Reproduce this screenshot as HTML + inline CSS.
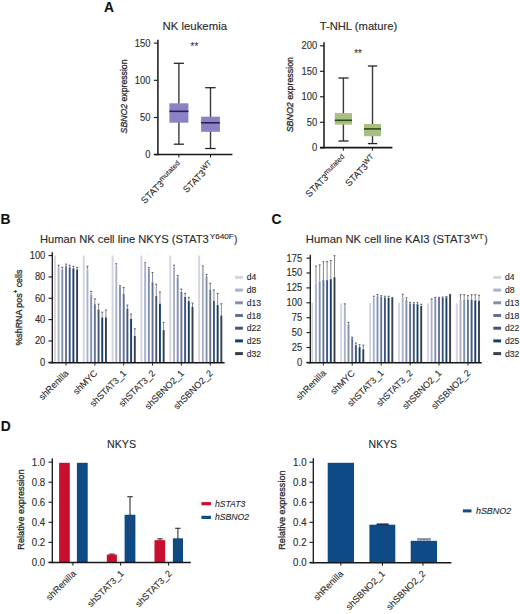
<!DOCTYPE html>
<html><head><meta charset="utf-8"><style>
html,body{margin:0;padding:0;background:#fff;}
svg{display:block;font-family:"Liberation Sans",sans-serif;}
text{stroke:#2b2b2b;stroke-width:0.12px;paint-order:stroke;}
text.yl{stroke-width:0.3px;}
</style></head><body>
<svg width="520" height="614" viewBox="0 0 520 614">
<rect width="520" height="614" fill="#fff"/>
<text x="104.0" y="11.8" font-size="13.8" text-anchor="start" fill="#111" font-weight="bold">A</text>
<text x="0.6" y="223.9" font-size="13.8" text-anchor="start" fill="#111" font-weight="bold">B</text>
<text x="271.6" y="223.9" font-size="13.8" text-anchor="start" fill="#111" font-weight="bold">C</text>
<text x="0.8" y="430.9" font-size="13.8" text-anchor="start" fill="#111" font-weight="bold">D</text>
<text x="162.5" y="30.2" font-size="10.4" text-anchor="start" fill="#2b2b2b" textLength="64.5" lengthAdjust="spacingAndGlyphs">NK leukemia</text>
<line x1="157.9" y1="39.8" x2="157.9" y2="155.2" stroke="#161616" stroke-width="1.5"/>
<line x1="153.9" y1="43.1" x2="157.9" y2="43.1" stroke="#161616" stroke-width="1.1"/>
<text x="150.4" y="46.5" font-size="10.2" text-anchor="end" fill="#2b2b2b" textLength="15.6" lengthAdjust="spacingAndGlyphs">150</text>
<line x1="153.9" y1="80.3" x2="157.9" y2="80.3" stroke="#161616" stroke-width="1.1"/>
<text x="150.4" y="83.7" font-size="10.2" text-anchor="end" fill="#2b2b2b" textLength="15.6" lengthAdjust="spacingAndGlyphs">100</text>
<line x1="153.9" y1="117.5" x2="157.9" y2="117.5" stroke="#161616" stroke-width="1.1"/>
<text x="150.4" y="120.9" font-size="10.2" text-anchor="end" fill="#2b2b2b" textLength="10.4" lengthAdjust="spacingAndGlyphs">50</text>
<line x1="153.9" y1="154.6" x2="157.9" y2="154.6" stroke="#161616" stroke-width="1.1"/>
<text x="150.4" y="158.0" font-size="10.2" text-anchor="end" fill="#2b2b2b" textLength="5.2" lengthAdjust="spacingAndGlyphs">0</text>
<line x1="153.9" y1="154.5" x2="232.4" y2="154.5" stroke="#161616" stroke-width="1.6"/>
<line x1="178.8" y1="154.5" x2="178.8" y2="157.5" stroke="#161616" stroke-width="1.0"/>
<line x1="210.5" y1="154.5" x2="210.5" y2="157.5" stroke="#161616" stroke-width="1.0"/>
<line x1="178.9" y1="63.3" x2="178.9" y2="144.2" stroke="#3a3a3a" stroke-width="1.4"/>
<line x1="173.8" y1="63.3" x2="183.9" y2="63.3" stroke="#262626" stroke-width="1.3"/>
<line x1="173.8" y1="144.2" x2="183.9" y2="144.2" stroke="#262626" stroke-width="1.3"/>
<rect x="169.40" y="103.30" width="19.00" height="19.40" fill="#8b82c6"/>
<line x1="169.4" y1="111.3" x2="188.4" y2="111.3" stroke="#2a2152" stroke-width="1.6"/>
<line x1="210.5" y1="87.7" x2="210.5" y2="148.5" stroke="#3a3a3a" stroke-width="1.4"/>
<line x1="205.2" y1="87.7" x2="215.6" y2="87.7" stroke="#262626" stroke-width="1.3"/>
<line x1="205.2" y1="148.5" x2="215.6" y2="148.5" stroke="#262626" stroke-width="1.3"/>
<rect x="201.10" y="116.70" width="18.80" height="15.10" fill="#8b82c6"/>
<line x1="201.1" y1="122.8" x2="219.9" y2="122.8" stroke="#2a2152" stroke-width="1.6"/>
<text x="190.6" y="49.7" font-size="11" text-anchor="start" fill="#333" textLength="7.6" lengthAdjust="spacingAndGlyphs">**</text>
<text x="0" y="0" font-size="9.8" text-anchor="middle" fill="#2b2b2b" textLength="73.9" lengthAdjust="spacingAndGlyphs" transform="translate(127.3,96.45) rotate(-90)" class="yl"><tspan font-style="italic">SBNO2</tspan> expression</text>
<text x="319.7" y="30.3" font-size="10.4" text-anchor="start" fill="#2b2b2b" textLength="77.5" lengthAdjust="spacingAndGlyphs">T-NHL (mature)</text>
<line x1="324.0" y1="42.3" x2="324.0" y2="148.29999999999998" stroke="#161616" stroke-width="1.5"/>
<line x1="320.0" y1="45.8" x2="324.0" y2="45.8" stroke="#161616" stroke-width="1.1"/>
<text x="317.20000000000005" y="49.199999999999996" font-size="10.2" text-anchor="end" fill="#2b2b2b" textLength="15.6" lengthAdjust="spacingAndGlyphs">200</text>
<line x1="320.0" y1="71.3" x2="324.0" y2="71.3" stroke="#161616" stroke-width="1.1"/>
<text x="317.20000000000005" y="74.7" font-size="10.2" text-anchor="end" fill="#2b2b2b" textLength="15.6" lengthAdjust="spacingAndGlyphs">150</text>
<line x1="320.0" y1="96.8" x2="324.0" y2="96.8" stroke="#161616" stroke-width="1.1"/>
<text x="317.20000000000005" y="100.2" font-size="10.2" text-anchor="end" fill="#2b2b2b" textLength="15.6" lengthAdjust="spacingAndGlyphs">100</text>
<line x1="320.0" y1="122.3" x2="324.0" y2="122.3" stroke="#161616" stroke-width="1.1"/>
<text x="317.20000000000005" y="125.7" font-size="10.2" text-anchor="end" fill="#2b2b2b" textLength="10.4" lengthAdjust="spacingAndGlyphs">50</text>
<line x1="320.0" y1="147.8" x2="324.0" y2="147.8" stroke="#161616" stroke-width="1.1"/>
<text x="317.20000000000005" y="151.20000000000002" font-size="10.2" text-anchor="end" fill="#2b2b2b" textLength="5.2" lengthAdjust="spacingAndGlyphs">0</text>
<line x1="320.0" y1="147.6" x2="392.4" y2="147.6" stroke="#161616" stroke-width="1.6"/>
<line x1="343.4" y1="147.6" x2="343.4" y2="150.6" stroke="#161616" stroke-width="1.0"/>
<line x1="372.4" y1="147.6" x2="372.4" y2="150.6" stroke="#161616" stroke-width="1.0"/>
<line x1="343.4" y1="78.0" x2="343.4" y2="141.0" stroke="#3a3a3a" stroke-width="1.4"/>
<line x1="338.4" y1="78.0" x2="348.6" y2="78.0" stroke="#262626" stroke-width="1.3"/>
<line x1="338.4" y1="141.0" x2="348.6" y2="141.0" stroke="#262626" stroke-width="1.3"/>
<rect x="334.80" y="113.10" width="17.20" height="11.50" fill="#a9bf82"/>
<line x1="334.8" y1="120.3" x2="352.0" y2="120.3" stroke="#2f4a1e" stroke-width="1.6"/>
<line x1="372.5" y1="66.0" x2="372.5" y2="143.6" stroke="#3a3a3a" stroke-width="1.4"/>
<line x1="367.9" y1="66.0" x2="377.2" y2="66.0" stroke="#262626" stroke-width="1.3"/>
<line x1="367.9" y1="143.6" x2="377.2" y2="143.6" stroke="#262626" stroke-width="1.3"/>
<rect x="364.00" y="124.00" width="17.00" height="12.20" fill="#a9bf82"/>
<line x1="364.0" y1="128.9" x2="381.0" y2="128.9" stroke="#2f4a1e" stroke-width="1.6"/>
<text x="354.3" y="57.0" font-size="11" text-anchor="start" fill="#333" textLength="7.6" lengthAdjust="spacingAndGlyphs">**</text>
<text x="0" y="0" font-size="9.8" text-anchor="middle" fill="#2b2b2b" textLength="75.3" lengthAdjust="spacingAndGlyphs" transform="translate(293.3,94.65) rotate(-90)" class="yl"><tspan font-style="italic">SBNO2</tspan> expression</text>
<text x="0" y="0" font-size="9.3" text-anchor="end" fill="#2b2b2b" transform="translate(183.0,166.0) rotate(-45)">STAT3<tspan font-size="7.3" dy="-3.6">mutated</tspan></text>
<text x="0" y="0" font-size="9.3" text-anchor="end" fill="#2b2b2b" transform="translate(214.3,165.8) rotate(-45)">STAT3<tspan font-size="7.3" dy="-3.6">WT</tspan></text>
<text x="0" y="0" font-size="9.3" text-anchor="end" fill="#2b2b2b" transform="translate(347.5,159.5) rotate(-45)">STAT3<tspan font-size="7.3" dy="-3.6">mutated</tspan></text>
<text x="0" y="0" font-size="9.3" text-anchor="end" fill="#2b2b2b" transform="translate(376.4,159.4) rotate(-45)">STAT3<tspan font-size="7.3" dy="-3.6">WT</tspan></text>
<rect x="53.95" y="255.60" width="1.90" height="107.20" fill="#d4d5df"/>
<line x1="58.6" y1="265.203" x2="58.6" y2="267.337" stroke="#555" stroke-width="0.7"/>
<line x1="57.6" y1="265.203" x2="59.6" y2="265.203" stroke="#444" stroke-width="0.8"/>
<rect x="57.65" y="267.34" width="1.90" height="95.46" fill="#aab2cb"/>
<line x1="62.3" y1="267.337" x2="62.3" y2="269.471" stroke="#555" stroke-width="0.7"/>
<line x1="61.3" y1="267.337" x2="63.3" y2="267.337" stroke="#444" stroke-width="0.8"/>
<rect x="61.35" y="269.47" width="1.90" height="93.33" fill="#8290b0"/>
<line x1="66.0" y1="264.13599999999997" x2="66.0" y2="266.27" stroke="#555" stroke-width="0.7"/>
<line x1="65.0" y1="264.13599999999997" x2="67.0" y2="264.13599999999997" stroke="#444" stroke-width="0.8"/>
<rect x="65.05" y="266.27" width="1.90" height="96.53" fill="#63709a"/>
<line x1="69.7" y1="265.203" x2="69.7" y2="267.337" stroke="#555" stroke-width="0.7"/>
<line x1="68.7" y1="265.203" x2="70.7" y2="265.203" stroke="#444" stroke-width="0.8"/>
<rect x="68.75" y="267.34" width="1.90" height="95.46" fill="#43557e"/>
<line x1="73.4" y1="266.27" x2="73.4" y2="268.404" stroke="#555" stroke-width="0.7"/>
<line x1="72.4" y1="266.27" x2="74.4" y2="266.27" stroke="#444" stroke-width="0.8"/>
<rect x="72.45" y="268.40" width="1.90" height="94.40" fill="#15406e"/>
<line x1="77.1" y1="267.337" x2="77.1" y2="269.471" stroke="#555" stroke-width="0.7"/>
<line x1="76.1" y1="267.337" x2="78.1" y2="267.337" stroke="#444" stroke-width="0.8"/>
<rect x="76.15" y="269.47" width="1.90" height="93.33" fill="#393f4a"/>
<rect x="82.80" y="255.60" width="1.90" height="107.20" fill="#d4d5df"/>
<line x1="87.44999999999999" y1="266.27" x2="87.44999999999999" y2="269.471" stroke="#555" stroke-width="0.7"/>
<line x1="86.44999999999999" y1="266.27" x2="88.44999999999999" y2="266.27" stroke="#444" stroke-width="0.8"/>
<rect x="86.50" y="269.47" width="1.90" height="93.33" fill="#aab2cb"/>
<line x1="91.14999999999999" y1="291.3445" x2="91.14999999999999" y2="294.5455" stroke="#555" stroke-width="0.7"/>
<line x1="90.14999999999999" y1="291.3445" x2="92.14999999999999" y2="291.3445" stroke="#444" stroke-width="0.8"/>
<rect x="90.20" y="294.55" width="1.90" height="68.25" fill="#8290b0"/>
<line x1="94.85" y1="298.8135" x2="94.85" y2="304.1485" stroke="#555" stroke-width="0.7"/>
<line x1="93.85" y1="298.8135" x2="95.85" y2="298.8135" stroke="#444" stroke-width="0.8"/>
<rect x="93.90" y="304.15" width="1.90" height="58.65" fill="#63709a"/>
<line x1="98.55" y1="304.1485" x2="98.55" y2="309.4835" stroke="#555" stroke-width="0.7"/>
<line x1="97.55" y1="304.1485" x2="99.55" y2="304.1485" stroke="#444" stroke-width="0.8"/>
<rect x="97.60" y="309.48" width="1.90" height="53.32" fill="#43557e"/>
<line x1="102.25" y1="312.151" x2="102.25" y2="317.486" stroke="#555" stroke-width="0.7"/>
<line x1="101.25" y1="312.151" x2="103.25" y2="312.151" stroke="#444" stroke-width="0.8"/>
<rect x="101.30" y="317.49" width="1.90" height="45.31" fill="#15406e"/>
<line x1="105.94999999999999" y1="310.017" x2="105.94999999999999" y2="317.486" stroke="#555" stroke-width="0.7"/>
<line x1="104.94999999999999" y1="310.017" x2="106.94999999999999" y2="310.017" stroke="#444" stroke-width="0.8"/>
<rect x="105.00" y="317.49" width="1.90" height="45.31" fill="#393f4a"/>
<rect x="111.65" y="255.60" width="1.90" height="107.20" fill="#d4d5df"/>
<line x1="116.3" y1="263.7092" x2="116.3" y2="265.7365" stroke="#555" stroke-width="0.7"/>
<line x1="115.3" y1="263.7092" x2="117.3" y2="263.7092" stroke="#444" stroke-width="0.8"/>
<rect x="115.35" y="265.74" width="1.90" height="97.06" fill="#aab2cb"/>
<line x1="120.0" y1="285.6894" x2="120.0" y2="286.9698" stroke="#555" stroke-width="0.7"/>
<line x1="119.0" y1="285.6894" x2="121.0" y2="285.6894" stroke="#444" stroke-width="0.8"/>
<rect x="119.05" y="286.97" width="1.90" height="75.83" fill="#8290b0"/>
<line x1="123.7" y1="287.61" x2="123.7" y2="294.012" stroke="#555" stroke-width="0.7"/>
<line x1="122.7" y1="287.61" x2="124.7" y2="287.61" stroke="#444" stroke-width="0.8"/>
<rect x="122.75" y="294.01" width="1.90" height="68.79" fill="#63709a"/>
<line x1="127.4" y1="305.1088" x2="127.4" y2="308.6299" stroke="#555" stroke-width="0.7"/>
<line x1="126.4" y1="305.1088" x2="128.4" y2="305.1088" stroke="#444" stroke-width="0.8"/>
<rect x="126.45" y="308.63" width="1.90" height="54.17" fill="#43557e"/>
<line x1="131.1" y1="314.0716" x2="131.1" y2="318.7664" stroke="#555" stroke-width="0.7"/>
<line x1="130.1" y1="314.0716" x2="132.1" y2="314.0716" stroke="#444" stroke-width="0.8"/>
<rect x="130.15" y="318.77" width="1.90" height="44.03" fill="#15406e"/>
<line x1="134.8" y1="328.7962" x2="134.8" y2="336.0518" stroke="#555" stroke-width="0.7"/>
<line x1="133.8" y1="328.7962" x2="135.8" y2="328.7962" stroke="#444" stroke-width="0.8"/>
<rect x="133.85" y="336.05" width="1.90" height="26.75" fill="#393f4a"/>
<rect x="140.50" y="255.60" width="1.90" height="107.20" fill="#d4d5df"/>
<line x1="145.15" y1="262.7489" x2="145.15" y2="263.7092" stroke="#555" stroke-width="0.7"/>
<line x1="144.15" y1="262.7489" x2="146.15" y2="262.7489" stroke="#444" stroke-width="0.8"/>
<rect x="144.20" y="263.71" width="1.90" height="99.09" fill="#aab2cb"/>
<line x1="148.85000000000002" y1="267.6571" x2="148.85000000000002" y2="268.6174" stroke="#555" stroke-width="0.7"/>
<line x1="147.85000000000002" y1="267.6571" x2="149.85000000000002" y2="267.6571" stroke="#444" stroke-width="0.8"/>
<rect x="147.90" y="268.62" width="1.90" height="94.18" fill="#8290b0"/>
<line x1="152.55" y1="272.4586" x2="152.55" y2="282.275" stroke="#555" stroke-width="0.7"/>
<line x1="151.55" y1="272.4586" x2="153.55" y2="272.4586" stroke="#444" stroke-width="0.8"/>
<rect x="151.60" y="282.27" width="1.90" height="80.53" fill="#63709a"/>
<line x1="156.25" y1="284.1956" x2="156.25" y2="295.9326" stroke="#555" stroke-width="0.7"/>
<line x1="155.25" y1="284.1956" x2="157.25" y2="284.1956" stroke="#444" stroke-width="0.8"/>
<rect x="155.30" y="295.93" width="1.90" height="66.87" fill="#43557e"/>
<line x1="159.95000000000002" y1="291.9847" x2="159.95000000000002" y2="303.7217" stroke="#555" stroke-width="0.7"/>
<line x1="158.95000000000002" y1="291.9847" x2="160.95000000000002" y2="291.9847" stroke="#444" stroke-width="0.8"/>
<rect x="159.00" y="303.72" width="1.90" height="59.08" fill="#15406e"/>
<line x1="163.65" y1="322.2875" x2="163.65" y2="330.0766" stroke="#555" stroke-width="0.7"/>
<line x1="162.65" y1="322.2875" x2="164.65" y2="322.2875" stroke="#444" stroke-width="0.8"/>
<rect x="162.70" y="330.08" width="1.90" height="32.72" fill="#393f4a"/>
<rect x="169.35" y="255.60" width="1.90" height="107.20" fill="#d4d5df"/>
<line x1="174.0" y1="265.203" x2="174.0" y2="266.5901" stroke="#555" stroke-width="0.7"/>
<line x1="173.0" y1="265.203" x2="175.0" y2="265.203" stroke="#444" stroke-width="0.8"/>
<rect x="173.05" y="266.59" width="1.90" height="96.21" fill="#aab2cb"/>
<line x1="177.70000000000002" y1="275.4462" x2="177.70000000000002" y2="277.3668" stroke="#555" stroke-width="0.7"/>
<line x1="176.70000000000002" y1="275.4462" x2="178.70000000000002" y2="275.4462" stroke="#444" stroke-width="0.8"/>
<rect x="176.75" y="277.37" width="1.90" height="85.43" fill="#8290b0"/>
<line x1="181.4" y1="289.1038" x2="181.4" y2="291.9847" stroke="#555" stroke-width="0.7"/>
<line x1="180.4" y1="289.1038" x2="182.4" y2="289.1038" stroke="#444" stroke-width="0.8"/>
<rect x="180.45" y="291.98" width="1.90" height="70.82" fill="#63709a"/>
<line x1="185.1" y1="293.3718" x2="185.1" y2="296.8929" stroke="#555" stroke-width="0.7"/>
<line x1="184.1" y1="293.3718" x2="186.1" y2="293.3718" stroke="#444" stroke-width="0.8"/>
<rect x="184.15" y="296.89" width="1.90" height="65.91" fill="#43557e"/>
<line x1="188.8" y1="297.3197" x2="188.8" y2="301.1609" stroke="#555" stroke-width="0.7"/>
<line x1="187.8" y1="297.3197" x2="189.8" y2="297.3197" stroke="#444" stroke-width="0.8"/>
<rect x="187.85" y="301.16" width="1.90" height="61.64" fill="#15406e"/>
<line x1="192.5" y1="303.1882" x2="192.5" y2="306.7093" stroke="#555" stroke-width="0.7"/>
<line x1="191.5" y1="303.1882" x2="193.5" y2="303.1882" stroke="#444" stroke-width="0.8"/>
<rect x="191.55" y="306.71" width="1.90" height="56.09" fill="#393f4a"/>
<rect x="198.20" y="255.60" width="1.90" height="107.20" fill="#d4d5df"/>
<line x1="202.85" y1="265.9499" x2="202.85" y2="267.2303" stroke="#555" stroke-width="0.7"/>
<line x1="201.85" y1="265.9499" x2="203.85" y2="265.9499" stroke="#444" stroke-width="0.8"/>
<rect x="201.90" y="267.23" width="1.90" height="95.57" fill="#aab2cb"/>
<line x1="206.55" y1="274.37919999999997" x2="206.55" y2="276.4065" stroke="#555" stroke-width="0.7"/>
<line x1="205.55" y1="274.37919999999997" x2="207.55" y2="274.37919999999997" stroke="#444" stroke-width="0.8"/>
<rect x="205.60" y="276.41" width="1.90" height="86.39" fill="#8290b0"/>
<line x1="210.25" y1="283.2353" x2="210.25" y2="289.9574" stroke="#555" stroke-width="0.7"/>
<line x1="209.25" y1="283.2353" x2="211.25" y2="283.2353" stroke="#444" stroke-width="0.8"/>
<rect x="209.30" y="289.96" width="1.90" height="72.84" fill="#63709a"/>
<line x1="213.95" y1="289.9574" x2="213.95" y2="300.8408" stroke="#555" stroke-width="0.7"/>
<line x1="212.95" y1="289.9574" x2="214.95" y2="289.9574" stroke="#444" stroke-width="0.8"/>
<rect x="213.00" y="300.84" width="1.90" height="61.96" fill="#43557e"/>
<line x1="217.65" y1="293.3718" x2="217.65" y2="305.1088" stroke="#555" stroke-width="0.7"/>
<line x1="216.65" y1="293.3718" x2="218.65" y2="293.3718" stroke="#444" stroke-width="0.8"/>
<rect x="216.70" y="305.11" width="1.90" height="57.69" fill="#15406e"/>
<line x1="221.35" y1="303.7217" x2="221.35" y2="315.4587" stroke="#555" stroke-width="0.7"/>
<line x1="220.35" y1="303.7217" x2="222.35" y2="303.7217" stroke="#444" stroke-width="0.8"/>
<rect x="220.40" y="315.46" width="1.90" height="47.34" fill="#393f4a"/>
<line x1="52.3" y1="252.3" x2="52.3" y2="363.5" stroke="#161616" stroke-width="1.3"/>
<line x1="48.5" y1="362.3" x2="52.3" y2="362.3" stroke="#161616" stroke-width="1.1"/>
<text x="45.300000000000004" y="365.7" font-size="10.2" text-anchor="end" fill="#2b2b2b" textLength="5.2" lengthAdjust="spacingAndGlyphs">0</text>
<line x1="48.5" y1="340.96000000000004" x2="52.3" y2="340.96000000000004" stroke="#161616" stroke-width="1.1"/>
<text x="45.300000000000004" y="344.36" font-size="10.2" text-anchor="end" fill="#2b2b2b" textLength="10.4" lengthAdjust="spacingAndGlyphs">20</text>
<line x1="48.5" y1="319.62" x2="52.3" y2="319.62" stroke="#161616" stroke-width="1.1"/>
<text x="45.300000000000004" y="323.02" font-size="10.2" text-anchor="end" fill="#2b2b2b" textLength="10.4" lengthAdjust="spacingAndGlyphs">40</text>
<line x1="48.5" y1="298.28" x2="52.3" y2="298.28" stroke="#161616" stroke-width="1.1"/>
<text x="45.300000000000004" y="301.67999999999995" font-size="10.2" text-anchor="end" fill="#2b2b2b" textLength="10.4" lengthAdjust="spacingAndGlyphs">60</text>
<line x1="48.5" y1="276.94" x2="52.3" y2="276.94" stroke="#161616" stroke-width="1.1"/>
<text x="45.300000000000004" y="280.34" font-size="10.2" text-anchor="end" fill="#2b2b2b" textLength="10.4" lengthAdjust="spacingAndGlyphs">80</text>
<line x1="48.5" y1="255.6" x2="52.3" y2="255.6" stroke="#161616" stroke-width="1.1"/>
<text x="45.300000000000004" y="259.0" font-size="10.2" text-anchor="end" fill="#2b2b2b" textLength="15.6" lengthAdjust="spacingAndGlyphs">100</text>
<line x1="48.699999999999996" y1="362.8" x2="224.6" y2="362.8" stroke="#161616" stroke-width="1.5"/>
<line x1="66.0" y1="362.8" x2="66.0" y2="365.6" stroke="#161616" stroke-width="0.9"/>
<line x1="94.85" y1="362.8" x2="94.85" y2="365.6" stroke="#161616" stroke-width="0.9"/>
<line x1="123.7" y1="362.8" x2="123.7" y2="365.6" stroke="#161616" stroke-width="0.9"/>
<line x1="152.55" y1="362.8" x2="152.55" y2="365.6" stroke="#161616" stroke-width="0.9"/>
<line x1="181.4" y1="362.8" x2="181.4" y2="365.6" stroke="#161616" stroke-width="0.9"/>
<line x1="210.25" y1="362.8" x2="210.25" y2="365.6" stroke="#161616" stroke-width="0.9"/>
<rect x="235.10" y="275.90" width="7.80" height="3.00" fill="#d4d5df"/>
<text x="246.7" y="280.4" font-size="8.6" text-anchor="start" fill="#2b2b2b">d4</text>
<rect x="235.10" y="288.60" width="7.80" height="3.00" fill="#aab2cb"/>
<text x="246.7" y="293.09999999999997" font-size="8.6" text-anchor="start" fill="#2b2b2b">d8</text>
<rect x="235.10" y="301.30" width="7.80" height="3.00" fill="#8290b0"/>
<text x="246.7" y="305.79999999999995" font-size="8.6" text-anchor="start" fill="#2b2b2b">d13</text>
<rect x="235.10" y="314.00" width="7.80" height="3.00" fill="#63709a"/>
<text x="246.7" y="318.5" font-size="8.6" text-anchor="start" fill="#2b2b2b">d18</text>
<rect x="235.10" y="326.70" width="7.80" height="3.00" fill="#43557e"/>
<text x="246.7" y="331.2" font-size="8.6" text-anchor="start" fill="#2b2b2b">d22</text>
<rect x="235.10" y="339.40" width="7.80" height="3.00" fill="#15406e"/>
<text x="246.7" y="343.9" font-size="8.6" text-anchor="start" fill="#2b2b2b">d25</text>
<rect x="235.10" y="352.10" width="7.80" height="3.00" fill="#393f4a"/>
<text x="246.7" y="356.59999999999997" font-size="8.6" text-anchor="start" fill="#2b2b2b">d32</text>
<text x="40.0" y="242.7" font-size="10.4" text-anchor="start" fill="#2b2b2b" textLength="168.7" lengthAdjust="spacingAndGlyphs">Human NK cell line NKYS (STAT3</text>
<text x="209.7" y="238.6" font-size="7.3" text-anchor="start" fill="#2b2b2b" textLength="24.2" lengthAdjust="spacingAndGlyphs">Y640F</text>
<text x="234.0" y="242.7" font-size="10.4" text-anchor="start" fill="#2b2b2b">)</text>
<text x="0" y="0" font-size="9.2" text-anchor="end" fill="#2b2b2b" transform="translate(69.2,373.8) rotate(-45)">shRenilla</text>
<text x="0" y="0" font-size="9.2" text-anchor="end" fill="#2b2b2b" transform="translate(98.05,373.8) rotate(-45)">shMYC</text>
<text x="0" y="0" font-size="9.2" text-anchor="end" fill="#2b2b2b" transform="translate(126.9,373.8) rotate(-45)">shSTAT3_1</text>
<text x="0" y="0" font-size="9.2" text-anchor="end" fill="#2b2b2b" transform="translate(155.75,373.8) rotate(-45)">shSTAT3_2</text>
<text x="0" y="0" font-size="9.2" text-anchor="end" fill="#2b2b2b" transform="translate(184.6,373.8) rotate(-45)">shSBNO2_1</text>
<text x="0" y="0" font-size="9.2" text-anchor="end" fill="#2b2b2b" transform="translate(213.45,373.8) rotate(-45)">shSBNO2_2</text>
<rect x="311.35" y="302.80" width="1.90" height="59.90" fill="#d4d5df"/>
<line x1="316.0" y1="266.0864" x2="316.0" y2="284.026" stroke="#555" stroke-width="0.7"/>
<line x1="315.0" y1="266.0864" x2="317.0" y2="266.0864" stroke="#444" stroke-width="0.8"/>
<rect x="315.05" y="284.03" width="1.90" height="78.67" fill="#aab2cb"/>
<line x1="319.7" y1="264.8944" x2="319.7" y2="281.344" stroke="#555" stroke-width="0.7"/>
<line x1="318.7" y1="264.8944" x2="320.7" y2="264.8944" stroke="#444" stroke-width="0.8"/>
<rect x="318.75" y="281.34" width="1.90" height="81.36" fill="#8290b0"/>
<line x1="323.4" y1="261.67600000000004" x2="323.4" y2="280.15200000000004" stroke="#555" stroke-width="0.7"/>
<line x1="322.4" y1="261.67600000000004" x2="324.4" y2="261.67600000000004" stroke="#444" stroke-width="0.8"/>
<rect x="322.45" y="280.15" width="1.90" height="82.55" fill="#63709a"/>
<line x1="327.09999999999997" y1="261.67600000000004" x2="327.09999999999997" y2="280.15200000000004" stroke="#555" stroke-width="0.7"/>
<line x1="326.09999999999997" y1="261.67600000000004" x2="328.09999999999997" y2="261.67600000000004" stroke="#444" stroke-width="0.8"/>
<rect x="326.15" y="280.15" width="1.90" height="82.55" fill="#43557e"/>
<line x1="330.79999999999995" y1="260.6032" x2="330.79999999999995" y2="279.1984" stroke="#555" stroke-width="0.7"/>
<line x1="329.79999999999995" y1="260.6032" x2="331.79999999999995" y2="260.6032" stroke="#444" stroke-width="0.8"/>
<rect x="329.85" y="279.20" width="1.90" height="83.50" fill="#15406e"/>
<line x1="334.5" y1="255.716" x2="334.5" y2="277.172" stroke="#555" stroke-width="0.7"/>
<line x1="333.5" y1="255.716" x2="335.5" y2="255.716" stroke="#444" stroke-width="0.8"/>
<rect x="333.55" y="277.17" width="1.90" height="85.53" fill="#393f4a"/>
<rect x="340.15" y="303.40" width="1.90" height="59.30" fill="#d4d5df"/>
<line x1="344.8" y1="303.8132" x2="344.8" y2="305.18399999999997" stroke="#555" stroke-width="0.7"/>
<line x1="343.8" y1="303.8132" x2="345.8" y2="303.8132" stroke="#444" stroke-width="0.8"/>
<rect x="343.85" y="305.18" width="1.90" height="57.52" fill="#aab2cb"/>
<line x1="348.5" y1="322.2892" x2="348.5" y2="324.256" stroke="#555" stroke-width="0.7"/>
<line x1="347.5" y1="322.2892" x2="349.5" y2="322.2892" stroke="#444" stroke-width="0.8"/>
<rect x="347.55" y="324.26" width="1.90" height="38.44" fill="#8290b0"/>
<line x1="352.2" y1="337.1296" x2="352.2" y2="338.2024" stroke="#555" stroke-width="0.7"/>
<line x1="351.2" y1="337.1296" x2="353.2" y2="337.1296" stroke="#444" stroke-width="0.8"/>
<rect x="351.25" y="338.20" width="1.90" height="24.50" fill="#63709a"/>
<line x1="355.9" y1="342.9704" x2="355.9" y2="345.116" stroke="#555" stroke-width="0.7"/>
<line x1="354.9" y1="342.9704" x2="356.9" y2="342.9704" stroke="#444" stroke-width="0.8"/>
<rect x="354.95" y="345.12" width="1.90" height="17.58" fill="#43557e"/>
<line x1="359.59999999999997" y1="344.6988" x2="359.59999999999997" y2="347.202" stroke="#555" stroke-width="0.7"/>
<line x1="358.59999999999997" y1="344.6988" x2="360.59999999999997" y2="344.6988" stroke="#444" stroke-width="0.8"/>
<rect x="358.65" y="347.20" width="1.90" height="15.50" fill="#15406e"/>
<line x1="363.3" y1="345.116" x2="363.3" y2="349.288" stroke="#555" stroke-width="0.7"/>
<line x1="362.3" y1="345.116" x2="364.3" y2="345.116" stroke="#444" stroke-width="0.8"/>
<rect x="362.35" y="349.29" width="1.90" height="13.41" fill="#393f4a"/>
<rect x="369.15" y="302.80" width="1.90" height="59.90" fill="#d4d5df"/>
<line x1="373.8" y1="296.244" x2="373.8" y2="297.43600000000004" stroke="#555" stroke-width="0.7"/>
<line x1="372.8" y1="296.244" x2="374.8" y2="296.244" stroke="#444" stroke-width="0.8"/>
<rect x="372.85" y="297.44" width="1.90" height="65.26" fill="#aab2cb"/>
<line x1="377.5" y1="294.456" x2="377.5" y2="296.244" stroke="#555" stroke-width="0.7"/>
<line x1="376.5" y1="294.456" x2="378.5" y2="294.456" stroke="#444" stroke-width="0.8"/>
<rect x="376.55" y="296.24" width="1.90" height="66.46" fill="#8290b0"/>
<line x1="381.2" y1="295.648" x2="381.2" y2="296.84000000000003" stroke="#555" stroke-width="0.7"/>
<line x1="380.2" y1="295.648" x2="382.2" y2="295.648" stroke="#444" stroke-width="0.8"/>
<rect x="380.25" y="296.84" width="1.90" height="65.86" fill="#63709a"/>
<line x1="384.9" y1="296.244" x2="384.9" y2="297.43600000000004" stroke="#555" stroke-width="0.7"/>
<line x1="383.9" y1="296.244" x2="385.9" y2="296.244" stroke="#444" stroke-width="0.8"/>
<rect x="383.95" y="297.44" width="1.90" height="65.26" fill="#43557e"/>
<line x1="388.59999999999997" y1="296.244" x2="388.59999999999997" y2="297.73400000000004" stroke="#555" stroke-width="0.7"/>
<line x1="387.59999999999997" y1="296.244" x2="389.59999999999997" y2="296.244" stroke="#444" stroke-width="0.8"/>
<rect x="387.65" y="297.73" width="1.90" height="64.97" fill="#15406e"/>
<line x1="392.3" y1="297.43600000000004" x2="392.3" y2="298.03200000000004" stroke="#555" stroke-width="0.7"/>
<line x1="391.3" y1="297.43600000000004" x2="393.3" y2="297.43600000000004" stroke="#444" stroke-width="0.8"/>
<rect x="391.35" y="298.03" width="1.90" height="64.67" fill="#393f4a"/>
<rect x="398.05" y="302.80" width="1.90" height="59.90" fill="#d4d5df"/>
<line x1="402.70000000000005" y1="294.2176" x2="402.70000000000005" y2="297.43600000000004" stroke="#555" stroke-width="0.7"/>
<line x1="401.70000000000005" y1="294.2176" x2="403.70000000000005" y2="294.2176" stroke="#444" stroke-width="0.8"/>
<rect x="401.75" y="297.44" width="1.90" height="65.26" fill="#aab2cb"/>
<line x1="406.40000000000003" y1="297.79359999999997" x2="406.40000000000003" y2="299.82" stroke="#555" stroke-width="0.7"/>
<line x1="405.40000000000003" y1="297.79359999999997" x2="407.40000000000003" y2="297.79359999999997" stroke="#444" stroke-width="0.8"/>
<rect x="405.45" y="299.82" width="1.90" height="62.88" fill="#8290b0"/>
<line x1="410.1" y1="302.204" x2="410.1" y2="303.396" stroke="#555" stroke-width="0.7"/>
<line x1="409.1" y1="302.204" x2="411.1" y2="302.204" stroke="#444" stroke-width="0.8"/>
<rect x="409.15" y="303.40" width="1.90" height="59.30" fill="#63709a"/>
<line x1="413.8" y1="302.6212" x2="413.8" y2="303.8132" stroke="#555" stroke-width="0.7"/>
<line x1="412.8" y1="302.6212" x2="414.8" y2="302.6212" stroke="#444" stroke-width="0.8"/>
<rect x="412.85" y="303.81" width="1.90" height="58.89" fill="#43557e"/>
<line x1="417.5" y1="302.6212" x2="417.5" y2="304.23040000000003" stroke="#555" stroke-width="0.7"/>
<line x1="416.5" y1="302.6212" x2="418.5" y2="302.6212" stroke="#444" stroke-width="0.8"/>
<rect x="416.55" y="304.23" width="1.90" height="58.47" fill="#15406e"/>
<line x1="421.20000000000005" y1="304.23040000000003" x2="421.20000000000005" y2="306.0184" stroke="#555" stroke-width="0.7"/>
<line x1="420.20000000000005" y1="304.23040000000003" x2="422.20000000000005" y2="304.23040000000003" stroke="#444" stroke-width="0.8"/>
<rect x="420.25" y="306.02" width="1.90" height="56.68" fill="#393f4a"/>
<rect x="426.95" y="303.40" width="1.90" height="59.30" fill="#d4d5df"/>
<line x1="431.6" y1="298.9856" x2="431.6" y2="300.416" stroke="#555" stroke-width="0.7"/>
<line x1="430.6" y1="298.9856" x2="432.6" y2="298.9856" stroke="#444" stroke-width="0.8"/>
<rect x="430.65" y="300.42" width="1.90" height="62.28" fill="#aab2cb"/>
<line x1="435.3" y1="297.3168" x2="435.3" y2="298.2108" stroke="#555" stroke-width="0.7"/>
<line x1="434.3" y1="297.3168" x2="436.3" y2="297.3168" stroke="#444" stroke-width="0.8"/>
<rect x="434.35" y="298.21" width="1.90" height="64.49" fill="#8290b0"/>
<line x1="439.0" y1="297.3168" x2="439.0" y2="297.79359999999997" stroke="#555" stroke-width="0.7"/>
<line x1="438.0" y1="297.3168" x2="440.0" y2="297.3168" stroke="#444" stroke-width="0.8"/>
<rect x="438.05" y="297.79" width="1.90" height="64.91" fill="#63709a"/>
<line x1="442.7" y1="297.0188" x2="442.7" y2="297.79359999999997" stroke="#555" stroke-width="0.7"/>
<line x1="441.7" y1="297.0188" x2="443.7" y2="297.0188" stroke="#444" stroke-width="0.8"/>
<rect x="441.75" y="297.79" width="1.90" height="64.91" fill="#43557e"/>
<line x1="446.4" y1="296.4228" x2="446.4" y2="297.3168" stroke="#555" stroke-width="0.7"/>
<line x1="445.4" y1="296.4228" x2="447.4" y2="296.4228" stroke="#444" stroke-width="0.8"/>
<rect x="445.45" y="297.32" width="1.90" height="65.38" fill="#15406e"/>
<line x1="450.1" y1="294.456" x2="450.1" y2="294.69440000000003" stroke="#555" stroke-width="0.7"/>
<line x1="449.1" y1="294.456" x2="451.1" y2="294.456" stroke="#444" stroke-width="0.8"/>
<rect x="449.15" y="294.69" width="1.90" height="68.01" fill="#393f4a"/>
<rect x="455.85" y="303.40" width="1.90" height="59.30" fill="#d4d5df"/>
<line x1="460.5" y1="294.69440000000003" x2="460.5" y2="299.82" stroke="#555" stroke-width="0.7"/>
<line x1="459.5" y1="294.69440000000003" x2="461.5" y2="294.69440000000003" stroke="#444" stroke-width="0.8"/>
<rect x="459.55" y="299.82" width="1.90" height="62.88" fill="#aab2cb"/>
<line x1="464.2" y1="294.69440000000003" x2="464.2" y2="299.82" stroke="#555" stroke-width="0.7"/>
<line x1="463.2" y1="294.69440000000003" x2="465.2" y2="294.69440000000003" stroke="#444" stroke-width="0.8"/>
<rect x="463.25" y="299.82" width="1.90" height="62.88" fill="#8290b0"/>
<line x1="467.9" y1="295.648" x2="467.9" y2="299.82" stroke="#555" stroke-width="0.7"/>
<line x1="466.9" y1="295.648" x2="468.9" y2="295.648" stroke="#444" stroke-width="0.8"/>
<rect x="466.95" y="299.82" width="1.90" height="62.88" fill="#63709a"/>
<line x1="471.59999999999997" y1="294.69440000000003" x2="471.59999999999997" y2="299.82" stroke="#555" stroke-width="0.7"/>
<line x1="470.59999999999997" y1="294.69440000000003" x2="472.59999999999997" y2="294.69440000000003" stroke="#444" stroke-width="0.8"/>
<rect x="470.65" y="299.82" width="1.90" height="62.88" fill="#43557e"/>
<line x1="475.29999999999995" y1="294.69440000000003" x2="475.29999999999995" y2="300.416" stroke="#555" stroke-width="0.7"/>
<line x1="474.29999999999995" y1="294.69440000000003" x2="476.29999999999995" y2="294.69440000000003" stroke="#444" stroke-width="0.8"/>
<rect x="474.35" y="300.42" width="1.90" height="62.28" fill="#15406e"/>
<line x1="479.0" y1="295.2308" x2="479.0" y2="300.7736" stroke="#555" stroke-width="0.7"/>
<line x1="478.0" y1="295.2308" x2="480.0" y2="295.2308" stroke="#444" stroke-width="0.8"/>
<rect x="478.05" y="300.77" width="1.90" height="61.93" fill="#393f4a"/>
<line x1="310.3" y1="254.8" x2="310.3" y2="363.4" stroke="#161616" stroke-width="1.3"/>
<line x1="306.5" y1="362.4" x2="310.3" y2="362.4" stroke="#161616" stroke-width="1.1"/>
<text x="302.20000000000005" y="365.79999999999995" font-size="10.2" text-anchor="end" fill="#2b2b2b" textLength="5.2" lengthAdjust="spacingAndGlyphs">0</text>
<line x1="306.5" y1="347.5" x2="310.3" y2="347.5" stroke="#161616" stroke-width="1.1"/>
<text x="302.20000000000005" y="350.9" font-size="10.2" text-anchor="end" fill="#2b2b2b" textLength="10.4" lengthAdjust="spacingAndGlyphs">25</text>
<line x1="306.5" y1="332.59999999999997" x2="310.3" y2="332.59999999999997" stroke="#161616" stroke-width="1.1"/>
<text x="302.20000000000005" y="335.99999999999994" font-size="10.2" text-anchor="end" fill="#2b2b2b" textLength="10.4" lengthAdjust="spacingAndGlyphs">50</text>
<line x1="306.5" y1="317.7" x2="310.3" y2="317.7" stroke="#161616" stroke-width="1.1"/>
<text x="302.20000000000005" y="321.09999999999997" font-size="10.2" text-anchor="end" fill="#2b2b2b" textLength="10.4" lengthAdjust="spacingAndGlyphs">75</text>
<line x1="306.5" y1="302.8" x2="310.3" y2="302.8" stroke="#161616" stroke-width="1.1"/>
<text x="302.20000000000005" y="306.2" font-size="10.2" text-anchor="end" fill="#2b2b2b" textLength="15.6" lengthAdjust="spacingAndGlyphs">100</text>
<line x1="306.5" y1="287.9" x2="310.3" y2="287.9" stroke="#161616" stroke-width="1.1"/>
<text x="302.20000000000005" y="291.29999999999995" font-size="10.2" text-anchor="end" fill="#2b2b2b" textLength="15.6" lengthAdjust="spacingAndGlyphs">125</text>
<line x1="306.5" y1="273.0" x2="310.3" y2="273.0" stroke="#161616" stroke-width="1.1"/>
<text x="302.20000000000005" y="276.4" font-size="10.2" text-anchor="end" fill="#2b2b2b" textLength="15.6" lengthAdjust="spacingAndGlyphs">150</text>
<line x1="306.5" y1="258.1" x2="310.3" y2="258.1" stroke="#161616" stroke-width="1.1"/>
<text x="302.20000000000005" y="261.5" font-size="10.2" text-anchor="end" fill="#2b2b2b" textLength="15.6" lengthAdjust="spacingAndGlyphs">175</text>
<line x1="306.7" y1="362.7" x2="481.7" y2="362.7" stroke="#161616" stroke-width="1.5"/>
<line x1="323.4" y1="362.7" x2="323.4" y2="365.5" stroke="#161616" stroke-width="0.9"/>
<line x1="352.2" y1="362.7" x2="352.2" y2="365.5" stroke="#161616" stroke-width="0.9"/>
<line x1="381.2" y1="362.7" x2="381.2" y2="365.5" stroke="#161616" stroke-width="0.9"/>
<line x1="410.1" y1="362.7" x2="410.1" y2="365.5" stroke="#161616" stroke-width="0.9"/>
<line x1="439.0" y1="362.7" x2="439.0" y2="365.5" stroke="#161616" stroke-width="0.9"/>
<line x1="467.9" y1="362.7" x2="467.9" y2="365.5" stroke="#161616" stroke-width="0.9"/>
<rect x="493.30" y="275.90" width="7.80" height="3.00" fill="#d4d5df"/>
<text x="504.90000000000003" y="280.4" font-size="8.6" text-anchor="start" fill="#2b2b2b">d4</text>
<rect x="493.30" y="288.60" width="7.80" height="3.00" fill="#aab2cb"/>
<text x="504.90000000000003" y="293.09999999999997" font-size="8.6" text-anchor="start" fill="#2b2b2b">d8</text>
<rect x="493.30" y="301.30" width="7.80" height="3.00" fill="#8290b0"/>
<text x="504.90000000000003" y="305.79999999999995" font-size="8.6" text-anchor="start" fill="#2b2b2b">d13</text>
<rect x="493.30" y="314.00" width="7.80" height="3.00" fill="#63709a"/>
<text x="504.90000000000003" y="318.5" font-size="8.6" text-anchor="start" fill="#2b2b2b">d18</text>
<rect x="493.30" y="326.70" width="7.80" height="3.00" fill="#43557e"/>
<text x="504.90000000000003" y="331.2" font-size="8.6" text-anchor="start" fill="#2b2b2b">d22</text>
<rect x="493.30" y="339.40" width="7.80" height="3.00" fill="#15406e"/>
<text x="504.90000000000003" y="343.9" font-size="8.6" text-anchor="start" fill="#2b2b2b">d25</text>
<rect x="493.30" y="352.10" width="7.80" height="3.00" fill="#393f4a"/>
<text x="504.90000000000003" y="356.59999999999997" font-size="8.6" text-anchor="start" fill="#2b2b2b">d32</text>
<text x="305.8" y="242.7" font-size="10.4" text-anchor="start" fill="#2b2b2b" textLength="164.2" lengthAdjust="spacingAndGlyphs">Human NK cell line KAI3 (STAT3</text>
<text x="470.5" y="238.6" font-size="7.3" text-anchor="start" fill="#2b2b2b" textLength="13.3" lengthAdjust="spacingAndGlyphs">WT</text>
<text x="484.3" y="242.7" font-size="10.4" text-anchor="start" fill="#2b2b2b">)</text>
<text x="0" y="0" font-size="9.2" text-anchor="end" fill="#2b2b2b" transform="translate(326.59999999999997,373.7) rotate(-45)">shRenilla</text>
<text x="0" y="0" font-size="9.2" text-anchor="end" fill="#2b2b2b" transform="translate(355.4,373.7) rotate(-45)">shMYC</text>
<text x="0" y="0" font-size="9.2" text-anchor="end" fill="#2b2b2b" transform="translate(384.4,373.7) rotate(-45)">shSTAT3_1</text>
<text x="0" y="0" font-size="9.2" text-anchor="end" fill="#2b2b2b" transform="translate(413.3,373.7) rotate(-45)">shSTAT3_2</text>
<text x="0" y="0" font-size="9.2" text-anchor="end" fill="#2b2b2b" transform="translate(442.2,373.7) rotate(-45)">shSBNO2_1</text>
<text x="0" y="0" font-size="9.2" text-anchor="end" fill="#2b2b2b" transform="translate(471.09999999999997,373.7) rotate(-45)">shSBNO2_2</text>
<text x="0" y="0" font-size="9.6" text-anchor="middle" fill="#2b2b2b" transform="translate(21.6,307.6) rotate(-90)" class="yl" textLength="76" lengthAdjust="spacingAndGlyphs">%shRNA pos<tspan font-size="6.5" dy="-3.5">+</tspan><tspan dy="3.5"> cells</tspan></text>
<line x1="130.0" y1="496.70349999999996" x2="130.0" y2="532.31" stroke="#333" stroke-width="1.1"/>
<line x1="127.25" y1="496.70349999999996" x2="132.75" y2="496.70349999999996" stroke="#333" stroke-width="1.1"/>
<line x1="177.9" y1="528.298" x2="177.9" y2="546.8534999999999" stroke="#333" stroke-width="1.1"/>
<line x1="175.15" y1="528.298" x2="180.65" y2="528.298" stroke="#333" stroke-width="1.1"/>
<line x1="160.0" y1="538.8294999999999" x2="160.0" y2="542.3399999999999" stroke="#333" stroke-width="1.1"/>
<line x1="157.25" y1="538.8294999999999" x2="162.75" y2="538.8294999999999" stroke="#333" stroke-width="1.1"/>
<line x1="111.9" y1="554.0751" x2="111.9" y2="556.382" stroke="#333" stroke-width="1.1"/>
<line x1="109.15" y1="554.0751" x2="114.65" y2="554.0751" stroke="#333" stroke-width="1.1"/>
<rect x="59.10" y="462.80" width="10.70" height="99.70" fill="#c8102e"/>
<rect x="76.90" y="462.80" width="10.80" height="99.70" fill="#0d4a86"/>
<rect x="106.80" y="554.58" width="10.10" height="7.92" fill="#c8102e"/>
<rect x="124.60" y="514.76" width="10.80" height="47.74" fill="#0d4a86"/>
<rect x="154.50" y="540.13" width="10.70" height="22.37" fill="#c8102e"/>
<rect x="172.90" y="538.33" width="10.10" height="24.17" fill="#0d4a86"/>
<line x1="130.0" y1="514.7574999999999" x2="130.0" y2="532.31" stroke="#3b4660" stroke-width="1.1"/>
<line x1="177.9" y1="538.328" x2="177.9" y2="546.8534999999999" stroke="#3b4660" stroke-width="1.1"/>
<line x1="127.4" y1="532.31" x2="132.6" y2="532.31" stroke="#3b4660" stroke-width="1.0"/>
<line x1="175.3" y1="546.8534999999999" x2="180.5" y2="546.8534999999999" stroke="#3b4660" stroke-width="1.0"/>
<line x1="52.3" y1="458.3" x2="52.3" y2="563.3000000000001" stroke="#161616" stroke-width="1.3"/>
<line x1="48.5" y1="562.4" x2="52.3" y2="562.4" stroke="#161616" stroke-width="1.1"/>
<text x="45.2" y="565.8" font-size="10.2" text-anchor="end" fill="#2b2b2b" textLength="13.4" lengthAdjust="spacingAndGlyphs">0.0</text>
<line x1="48.5" y1="542.35" x2="52.3" y2="542.35" stroke="#161616" stroke-width="1.1"/>
<text x="45.2" y="545.75" font-size="10.2" text-anchor="end" fill="#2b2b2b" textLength="13.4" lengthAdjust="spacingAndGlyphs">0.2</text>
<line x1="48.5" y1="522.3" x2="52.3" y2="522.3" stroke="#161616" stroke-width="1.1"/>
<text x="45.2" y="525.6999999999999" font-size="10.2" text-anchor="end" fill="#2b2b2b" textLength="13.4" lengthAdjust="spacingAndGlyphs">0.4</text>
<line x1="48.5" y1="502.25" x2="52.3" y2="502.25" stroke="#161616" stroke-width="1.1"/>
<text x="45.2" y="505.65" font-size="10.2" text-anchor="end" fill="#2b2b2b" textLength="13.4" lengthAdjust="spacingAndGlyphs">0.6</text>
<line x1="48.5" y1="482.2" x2="52.3" y2="482.2" stroke="#161616" stroke-width="1.1"/>
<text x="45.2" y="485.59999999999997" font-size="10.2" text-anchor="end" fill="#2b2b2b" textLength="13.4" lengthAdjust="spacingAndGlyphs">0.8</text>
<line x1="48.5" y1="462.15" x2="52.3" y2="462.15" stroke="#161616" stroke-width="1.1"/>
<text x="45.2" y="465.54999999999995" font-size="10.2" text-anchor="end" fill="#2b2b2b" textLength="13.4" lengthAdjust="spacingAndGlyphs">1.0</text>
<line x1="48.699999999999996" y1="562.6" x2="190.8" y2="562.6" stroke="#161616" stroke-width="1.5"/>
<line x1="72.9" y1="562.6" x2="72.9" y2="565.6" stroke="#161616" stroke-width="1.0"/>
<line x1="120.6" y1="562.6" x2="120.6" y2="565.6" stroke="#161616" stroke-width="1.0"/>
<line x1="168.6" y1="562.6" x2="168.6" y2="565.6" stroke="#161616" stroke-width="1.0"/>
<text x="107.0" y="448.0" font-size="10.4" text-anchor="start" fill="#2b2b2b" textLength="29.0" lengthAdjust="spacingAndGlyphs">NKYS</text>
<text x="0" y="0" font-size="9.8" text-anchor="middle" fill="#2b2b2b" textLength="80.2" lengthAdjust="spacingAndGlyphs" transform="translate(24.1,509.6) rotate(-90)" class="yl">Relative expression</text>
<text x="0" y="0" font-size="9.2" text-anchor="end" fill="#2b2b2b" transform="translate(76.60000000000001,574.2) rotate(-45)">shRenilla</text>
<text x="0" y="0" font-size="9.2" text-anchor="end" fill="#2b2b2b" transform="translate(124.3,574.2) rotate(-45)">shSTAT3_1</text>
<text x="0" y="0" font-size="9.2" text-anchor="end" fill="#2b2b2b" transform="translate(172.29999999999998,574.2) rotate(-45)">shSTAT3_2</text>
<rect x="201.40" y="502.10" width="9.50" height="3.20" fill="#c8102e"/>
<rect x="201.40" y="515.80" width="9.50" height="3.20" fill="#0d4a86"/>
<text x="214.9" y="506.6" font-size="9" text-anchor="start" fill="#2b2b2b" font-style="italic" textLength="30.3" lengthAdjust="spacingAndGlyphs">hSTAT3</text>
<text x="214.9" y="520.0" font-size="9" text-anchor="start" fill="#2b2b2b" font-style="italic" textLength="34.3" lengthAdjust="spacingAndGlyphs">hSBNO2</text>
<rect x="327.70" y="462.80" width="26.30" height="99.70" fill="#0d4a86"/>
<rect x="369.40" y="524.69" width="25.90" height="37.81" fill="#0d4a86"/>
<rect x="410.70" y="540.84" width="26.30" height="21.66" fill="#0d4a86"/>
<rect x="376.60" y="523.40" width="12.00" height="1.80" fill="#1f2f4c"/>
<rect x="417.20" y="538.00" width="13.60" height="2.80" fill="#8d96a8"/>
<line x1="313.3" y1="458.3" x2="313.3" y2="563.4000000000001" stroke="#161616" stroke-width="1.3"/>
<line x1="309.5" y1="562.4" x2="313.3" y2="562.4" stroke="#161616" stroke-width="1.1"/>
<text x="306.5" y="565.8" font-size="10.2" text-anchor="end" fill="#2b2b2b" textLength="13.4" lengthAdjust="spacingAndGlyphs">0.0</text>
<line x1="309.5" y1="542.35" x2="313.3" y2="542.35" stroke="#161616" stroke-width="1.1"/>
<text x="306.5" y="545.75" font-size="10.2" text-anchor="end" fill="#2b2b2b" textLength="13.4" lengthAdjust="spacingAndGlyphs">0.2</text>
<line x1="309.5" y1="522.3" x2="313.3" y2="522.3" stroke="#161616" stroke-width="1.1"/>
<text x="306.5" y="525.6999999999999" font-size="10.2" text-anchor="end" fill="#2b2b2b" textLength="13.4" lengthAdjust="spacingAndGlyphs">0.4</text>
<line x1="309.5" y1="502.25" x2="313.3" y2="502.25" stroke="#161616" stroke-width="1.1"/>
<text x="306.5" y="505.65" font-size="10.2" text-anchor="end" fill="#2b2b2b" textLength="13.4" lengthAdjust="spacingAndGlyphs">0.6</text>
<line x1="309.5" y1="482.2" x2="313.3" y2="482.2" stroke="#161616" stroke-width="1.1"/>
<text x="306.5" y="485.59999999999997" font-size="10.2" text-anchor="end" fill="#2b2b2b" textLength="13.4" lengthAdjust="spacingAndGlyphs">0.8</text>
<line x1="309.5" y1="462.15" x2="313.3" y2="462.15" stroke="#161616" stroke-width="1.1"/>
<text x="306.5" y="465.54999999999995" font-size="10.2" text-anchor="end" fill="#2b2b2b" textLength="13.4" lengthAdjust="spacingAndGlyphs">1.0</text>
<line x1="309.7" y1="562.7" x2="451.4" y2="562.7" stroke="#161616" stroke-width="1.5"/>
<line x1="340.9" y1="562.7" x2="340.9" y2="565.7" stroke="#161616" stroke-width="1.0"/>
<line x1="382.5" y1="562.7" x2="382.5" y2="565.7" stroke="#161616" stroke-width="1.0"/>
<line x1="423.0" y1="562.7" x2="423.0" y2="565.7" stroke="#161616" stroke-width="1.0"/>
<text x="368.6" y="448.0" font-size="10.4" text-anchor="start" fill="#2b2b2b" textLength="28.5" lengthAdjust="spacingAndGlyphs">NKYS</text>
<text x="0" y="0" font-size="8.6" text-anchor="middle" fill="#2b2b2b" textLength="79.2" lengthAdjust="spacingAndGlyphs" transform="translate(285.2,510.1) rotate(-90)" class="yl">Relative expression</text>
<text x="0" y="0" font-size="9.2" text-anchor="end" fill="#2b2b2b" transform="translate(343.9,574.3000000000001) rotate(-45)">shRenilla</text>
<text x="0" y="0" font-size="9.2" text-anchor="end" fill="#2b2b2b" transform="translate(385.5,574.3000000000001) rotate(-45)">shSBNO2_1</text>
<text x="0" y="0" font-size="9.2" text-anchor="end" fill="#2b2b2b" transform="translate(426.0,574.3000000000001) rotate(-45)">shSBNO2_2</text>
<rect x="462.90" y="509.40" width="8.60" height="3.00" fill="#0d4a86"/>
<text x="475.9" y="513.5" font-size="9" text-anchor="start" fill="#2b2b2b" font-style="italic" textLength="35.4" lengthAdjust="spacingAndGlyphs">hSBNO2</text>
</svg>
</body></html>
